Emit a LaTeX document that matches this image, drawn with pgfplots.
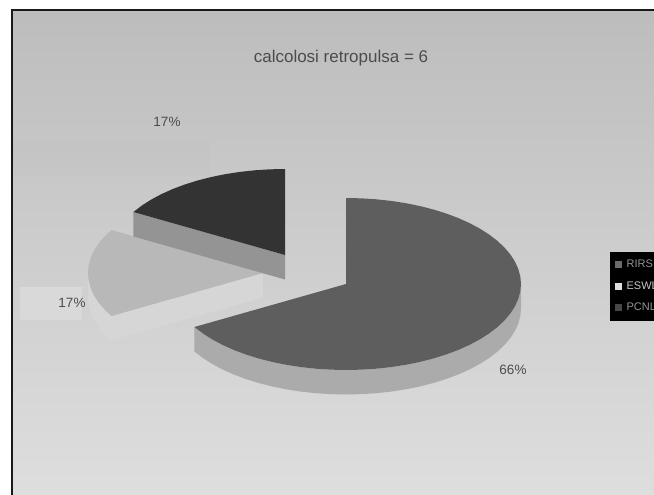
\documentclass[border=0pt]{standalone}
\usepackage{pgfplots}
\usepackage{pgfplotstable}
\usepackage{fontspec}
\setmainfont{Liberation Sans}
\pgfplotsset{compat=1.18}

% Six cases split as RIRS 4, ESWL 1, PCNL 1 (clockwise from 12 o'clock),
% so the slices span 240, 60 and 60 degrees.
% Columns: a = angle, r = 0 centre / 1 rim, z = 0 top face / 1 bottom face.
\pgfplotstableread[row sep=\\]{
a r z\\ 90 0 0\\ 90 1 0\\ 85 1 0\\ 80 1 0\\ 75 1 0\\ 70 1 0\\ 65 1 0\\ 60 1 0\\ 55 1 0\\ 50 1 0\\ 45 1 0\\ 40 1 0\\ 35 1 0\\ 30 1 0\\ 25 1 0\\ 20 1 0\\ 15 1 0\\ 10 1 0\\ 5 1 0\\ 0 1 0\\ -5 1 0\\ -10 1 0\\ -15 1 0\\ -20 1 0\\ -25 1 0\\ -30 1 0\\ -35 1 0\\ -40 1 0\\ -45 1 0\\ -50 1 0\\ -55 1 0\\ -60 1 0\\ -65 1 0\\ -70 1 0\\ -75 1 0\\ -80 1 0\\ -85 1 0\\ -90 1 0\\ -95 1 0\\ -100 1 0\\ -105 1 0\\ -110 1 0\\ -115 1 0\\ -120 1 0\\ -125 1 0\\ -130 1 0\\ -135 1 0\\ -140 1 0\\ -145 1 0\\ -150 1 0\\
}\rirsTop
\pgfplotstableread[row sep=\\]{
a r z\\ 0 1 0\\ -5 1 0\\ -10 1 0\\ -15 1 0\\ -20 1 0\\ -25 1 0\\ -30 1 0\\ -35 1 0\\ -40 1 0\\ -45 1 0\\ -50 1 0\\ -55 1 0\\ -60 1 0\\ -65 1 0\\ -70 1 0\\ -75 1 0\\ -80 1 0\\ -85 1 0\\ -90 1 0\\ -95 1 0\\ -100 1 0\\ -105 1 0\\ -110 1 0\\ -115 1 0\\ -120 1 0\\ -125 1 0\\ -130 1 0\\ -135 1 0\\ -140 1 0\\ -145 1 0\\ -150 1 0\\ -150 1 1\\ -145 1 1\\ -140 1 1\\ -135 1 1\\ -130 1 1\\ -125 1 1\\ -120 1 1\\ -115 1 1\\ -110 1 1\\ -105 1 1\\ -100 1 1\\ -95 1 1\\ -90 1 1\\ -85 1 1\\ -80 1 1\\ -75 1 1\\ -70 1 1\\ -65 1 1\\ -60 1 1\\ -55 1 1\\ -50 1 1\\ -45 1 1\\ -40 1 1\\ -35 1 1\\ -30 1 1\\ -25 1 1\\ -20 1 1\\ -15 1 1\\ -10 1 1\\ -5 1 1\\ 0 1 1\\
}\rirsWall
\pgfplotstableread[row sep=\\]{
a r z\\ 90 0 0\\ 90 1 0\\ 95 1 0\\ 100 1 0\\ 105 1 0\\ 110 1 0\\ 115 1 0\\ 120 1 0\\ 125 1 0\\ 130 1 0\\ 135 1 0\\ 140 1 0\\ 145 1 0\\ 150 1 0\\
}\pcnlTop
\pgfplotstableread[row sep=\\]{
a r z\\ 150 1 0\\ 150 0 0\\ 150 0 1\\ 150 1 1\\
}\pcnlWall
\pgfplotstableread[row sep=\\]{
a r z\\ 150 0 0\\ 150 1 0\\ 155 1 0\\ 160 1 0\\ 165 1 0\\ 170 1 0\\ 175 1 0\\ 180 1 0\\ 185 1 0\\ 190 1 0\\ 195 1 0\\ 200 1 0\\ 205 1 0\\ 210 1 0\\
}\eswlTop
\pgfplotstableread[row sep=\\]{
a r z\\ 180 1 0\\ 185 1 0\\ 190 1 0\\ 195 1 0\\ 200 1 0\\ 205 1 0\\ 210 1 0\\ 210 0 0\\ 210 0 1\\ 210 1 1\\ 205 1 1\\ 200 1 1\\ 195 1 1\\ 190 1 1\\ 185 1 1\\ 180 1 1\\
}\eswlWall

% One slice piece: colour, table, centre x, centre y
\newcommand{\piece}[4]{%
  \addplot[fill=#1, draw=none, forget plot] table[
    x expr={#3+175*\thisrow{r}*cos(\thisrow{a})},
    y expr={#4-86*\thisrow{r}*sin(\thisrow{a})+24.5*\thisrow{z}}] {#2} -- cycle;
}

\begin{document}
\begin{tikzpicture}
\clip (0,0) rectangle (654pt,495pt);
\fill[white] (0,0) rectangle (654pt,495pt);
\begin{axis}[
  at={(0,0)}, anchor=south west,
  width=654pt, height=495pt, scale only axis,
  xmin=0, xmax=654, ymin=0, ymax=495, y dir=reverse,
  axis lines=none,
  legend style={
    at={(axis cs:610,252)}, anchor=north west,
    fill=black, draw=black, font=\fontsize{11}{13}\selectfont,
    inner xsep=3.5pt, inner ysep=6.5pt,
    row sep=10.5pt, legend cell align=left,
    nodes={inner xsep=1.5pt, inner ysep=1pt},
  },
  legend image code/.code={\fill[#1] (0pt,-4pt) rectangle (8.5pt,4pt);},
]
% Slide background with its soft vertical gradient
\fill[top color=black!26, bottom color=black!13, draw=none]
  (axis cs:11,10) rectangle (axis cs:654,495);
% Faint leftover panels behind the pie
\fill[black!24, opacity=0.3] (axis cs:13,140) rectangle (axis cs:210,176);
\fill[black!15] (axis cs:20,287) rectangle (axis cs:82,320);
% Page edge along the top and the left
\fill[black!90] (axis cs:11,9) rectangle (axis cs:654,11.5);
\fill[black!90] (axis cs:11,9) rectangle (axis cs:13,495);

\addlegendimage{fill=black!58}\addlegendentry{\hspace*{2.5pt}\textcolor{black!42}{RIRS}}
\addlegendimage{fill=black!13}\addlegendentry{\hspace*{2.5pt}\textcolor{black!22}{ESWL}}
\addlegendimage{fill=black!72}\addlegendentry{\hspace*{2.5pt}\textcolor{black!42}{PCNL}}

% ESWL slice, pulled out to the left
\piece{black!16}{\eswlWall}{263}{273}
\piece{black!28}{\eswlTop}{263}{273}
% PCNL slice, pulled out upward
\piece{black!42}{\pcnlWall}{285}{255}
\piece{black!80}{\pcnlTop}{285}{255}
% RIRS slice
\piece{black!33}{\rirsWall}{346}{284}
\piece{black!63}{\rirsTop}{346}{284}

\node[font=\fontsize{17}{20}\selectfont, text=black!70] at (axis cs:341,58) {calcolosi retropulsa = 6};
\node[font=\fontsize{13.5}{16}\selectfont, text=black!70] at (axis cs:167,122) {17\%};
\node[font=\fontsize{13.5}{16}\selectfont, text=black!70] at (axis cs:72,303) {17\%};
\node[font=\fontsize{13.5}{16}\selectfont, text=black!70] at (axis cs:513,370) {66\%};
\end{axis}
\end{tikzpicture}
\end{document}
